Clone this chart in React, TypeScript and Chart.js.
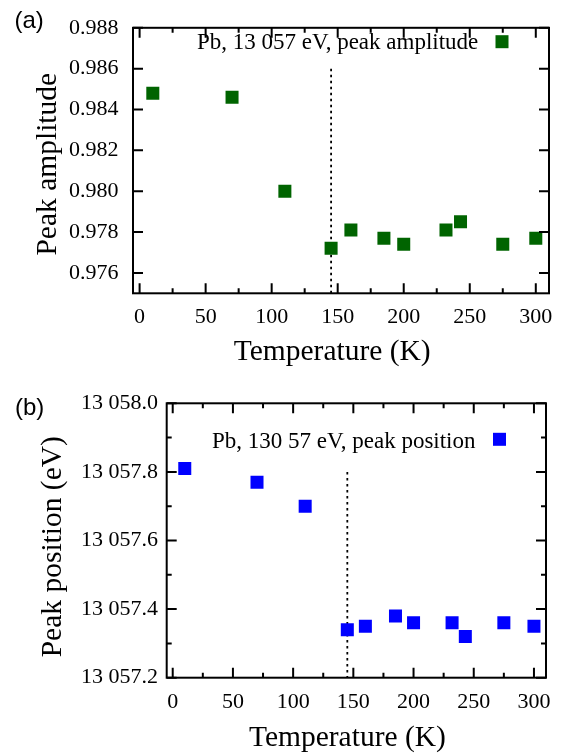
import React, { useEffect, useRef } from 'react';
import { Chart, registerables } from 'chart.js';

Chart.register(...registerables);

// ---------------- data ----------------
const TEMPERATURES = [10, 70, 110, 145, 160, 185, 200, 232, 243, 275, 300];
const PEAK_AMPLITUDE = [0.9848, 0.9846, 0.98, 0.9772, 0.9781, 0.9777, 0.9774, 0.9781, 0.9785, 0.9774, 0.9777];
const PEAK_POSITION = [13057.81, 13057.77, 13057.7, 13057.34, 13057.35, 13057.38, 13057.36, 13057.36, 13057.32, 13057.36, 13057.35];

const TRANSITION_T = 145;
const TRANSITION_SPAN_A = [0.986, 0.975];
const TRANSITION_SPAN_B = [13057.8, 13057.2];

const X_MAJOR_TICKS = [0, 50, 100, 150, 200, 250, 300];
const X_TICK_LABELS = ['0', '50', '100', '150', '200', '250', '300'];
const X_MINOR_TICKS = [25, 75, 125, 175, 225, 275];

const Y_TICKS_A = [0.976, 0.978, 0.98, 0.982, 0.984, 0.986, 0.988];
const Y_TICK_LABELS_A = ['0.976', '0.978', '0.980', '0.982', '0.984', '0.986', '0.988'];
const Y_MINOR_TICKS_A: number[] = [];

const Y_TICKS_B = [13057.2, 13057.4, 13057.6, 13057.8, 13058.0];
const Y_TICK_LABELS_B = ['13 057.2', '13 057.4', '13 057.6', '13 057.8', '13 058.0'];
const Y_MINOR_TICKS_B = [13057.3, 13057.5, 13057.7, 13057.9];

// ---------------- styles ----------------
const SERIF = '"Liberation Serif", "Times New Roman", Times, serif';
const SANS = '"Liberation Sans", Arial, Helvetica, sans-serif';
const W = 566;
const H = 377;

const PANELS = [
  {
    key: 'a',
    area: { left: 133, right: 549, top: 20.7, bottom: 293.3 },
    xRange: [-5, 310],
    yRange: [0.975, 0.988],
    yTicks: Y_TICKS_A,
    yLabels: Y_TICK_LABELS_A,
    yMinor: Y_MINOR_TICKS_A,
    yLabelPad: 14.6,
    xLabelPad: 11.1,
    values: PEAK_AMPLITUDE,
    span: TRANSITION_SPAN_A,
    color: '#006400',
    label: 'Pb, 13 057 eV, peak amplitude',
    panelLabel: '(a)',
    panelLabelPos: [14.5, 28],
    yTitle: 'Peak amplitude',
    yTitlePos: [56, 164.2],
    xTitle: 'Temperature (K)',
    xTitlePos: [332.2, 360],
    legendMarker: [502, 41.7],
    legendTextRight: 478.3,
    legendBaseline: 49,
  },
  {
    key: 'b',
    area: { left: 166.7, right: 546, top: 26.3, bottom: 300.7 },
    xRange: [-5, 310],
    yRange: [13057.2, 13058.0],
    yTicks: Y_TICKS_B,
    yLabels: Y_TICK_LABELS_B,
    yMinor: Y_MINOR_TICKS_B,
    yLabelPad: 8.6,
    xLabelPad: 11.7,
    values: PEAK_POSITION,
    span: TRANSITION_SPAN_B,
    color: '#0000ff',
    label: 'Pb, 130 57 eV, peak position',
    panelLabel: '(b)',
    panelLabelPos: [15, 37.5],
    yTitle: 'Peak position (eV)',
    yTitlePos: [61.4, 169.7],
    xTitle: 'Temperature (K)',
    xTitlePos: [347.4, 368.7],
    legendMarker: [499.5, 62.3],
    legendTextRight: 475.5,
    legendBaseline: 71.3,
  },
];

type PanelCfg = (typeof PANELS)[number];

function makeOverlay(cfg: PanelCfg) {
  return {
    id: 'overlay_' + cfg.key,
    afterDraw(chart: any) {
      const { ctx, chartArea: a, scales } = chart;
      const xs = scales.x;
      const ys = scales.y;
      ctx.save();
      ctx.strokeStyle = '#000';
      ctx.lineWidth = 2;
      ctx.lineCap = 'butt';
      // inward ticks on all four sides
      const xTick = (vals: number[], len: number) => {
        vals.forEach((v) => {
          const px = xs.getPixelForValue(v);
          ctx.beginPath();
          ctx.moveTo(px, a.bottom);
          ctx.lineTo(px, a.bottom - len);
          ctx.moveTo(px, a.top);
          ctx.lineTo(px, a.top + len);
          ctx.stroke();
        });
      };
      const yTick = (vals: number[], len: number) => {
        vals.forEach((v) => {
          const py = ys.getPixelForValue(v);
          ctx.beginPath();
          ctx.moveTo(a.left, py);
          ctx.lineTo(a.left + len, py);
          ctx.moveTo(a.right, py);
          ctx.lineTo(a.right - len, py);
          ctx.stroke();
        });
      };
      xTick(X_MAJOR_TICKS, 10);
      xTick(X_MINOR_TICKS, 5);
      yTick(cfg.yTicks, 10);
      yTick(cfg.yMinor, 5);
      // frame
      ctx.strokeRect(a.left, a.top, a.right - a.left, a.bottom - a.top);

      // legend (inside plot)
      const ds = chart.data.datasets[0];
      ctx.fillStyle = '#000';
      ctx.font = `23px ${SERIF}`;
      ctx.textAlign = 'right';
      ctx.textBaseline = 'alphabetic';
      ctx.fillText(ds.label, cfg.legendTextRight, cfg.legendBaseline);
      ctx.fillStyle = ds.backgroundColor;
      const s = 13;
      ctx.fillRect(cfg.legendMarker[0] - s / 2, cfg.legendMarker[1] - s / 2, s, s);

      // axis titles
      ctx.fillStyle = '#000';
      ctx.font = `29.5px ${SERIF}`;
      ctx.textAlign = 'center';
      ctx.textBaseline = 'alphabetic';
      ctx.fillText(cfg.xTitle, cfg.xTitlePos[0], cfg.xTitlePos[1]);
      ctx.save();
      ctx.translate(cfg.yTitlePos[0], cfg.yTitlePos[1]);
      ctx.rotate(-Math.PI / 2);
      ctx.fillText(cfg.yTitle, 0, 0);
      ctx.restore();

      // panel label
      ctx.font = `24px ${SANS}`;
      ctx.textAlign = 'left';
      ctx.fillText(cfg.panelLabel, cfg.panelLabelPos[0], cfg.panelLabelPos[1]);
      ctx.restore();
    },
  };
}

function Panel({ cfg }: { cfg: PanelCfg }) {
  const ref = useRef<HTMLCanvasElement | null>(null);
  useEffect(() => {
    if (!ref.current) return;
    const a = cfg.area;
    const tickFont = { family: SERIF, size: 22 };
    const chart = new Chart(ref.current, {
      type: 'scatter',
      data: {
        datasets: [
          {
            label: cfg.label,
            data: TEMPERATURES.map((t, i) => ({ x: t, y: cfg.values[i] })),
            backgroundColor: cfg.color,
            borderColor: cfg.color,
            borderWidth: 0,
            pointStyle: 'rect',
            pointRadius: 9.2,
            pointHoverRadius: 9.2,
          },
          {
            label: 'transition',
            type: 'line',
            data: cfg.span.map((v) => ({ x: TRANSITION_T, y: v })),
            borderColor: '#000',
            borderWidth: 1.8,
            borderDash: [2.5, 3.5],
            pointRadius: 0,
            showLine: true,
            fill: false,
          } as any,
        ],
      },
      options: {
        responsive: false,
        maintainAspectRatio: false,
        devicePixelRatio: 1,
        animation: false,
        events: [],
        layout: { padding: { left: 0, top: a.top, right: W - a.right, bottom: 0 } },
        plugins: { legend: { display: false }, tooltip: { enabled: false }, title: { display: false } },
        scales: {
          x: {
            type: 'linear',
            position: 'bottom',
            min: cfg.xRange[0],
            max: cfg.xRange[1],
            afterBuildTicks: (s: any) => {
              s.ticks = X_MAJOR_TICKS.map((v) => ({ value: v }));
            },
            afterFit: (s: any) => {
              s.height = H - a.bottom;
            },
            ticks: {
              autoSkip: false,
              maxRotation: 0,
              minRotation: 0,
              padding: cfg.xLabelPad,
              color: '#000',
              font: tickFont,
              callback: (_v: any, i: number) => X_TICK_LABELS[i],
            },
            grid: { display: false, drawTicks: false },
            border: { display: false },
          },
          y: {
            type: 'linear',
            position: 'left',
            min: cfg.yRange[0],
            max: cfg.yRange[1],
            afterBuildTicks: (s: any) => {
              s.ticks = cfg.yTicks.map((v) => ({ value: v }));
            },
            afterFit: (s: any) => {
              s.width = a.left;
            },
            ticks: {
              autoSkip: false,
              padding: cfg.yLabelPad,
              color: '#000',
              font: tickFont,
              callback: (_v: any, i: number) => cfg.yLabels[i],
            },
            grid: { display: false, drawTicks: false },
            border: { display: false },
          },
        },
      },
      plugins: [makeOverlay(cfg)],
    } as any);
    return () => chart.destroy();
  }, [cfg]);
  return <canvas ref={ref} width={W} height={H} style={{ display: 'block', width: W, height: H }} />;
}

export default function App() {
  return (
    <div style={{ position: 'absolute', left: 0, top: 0, width: W, height: 2 * H, background: '#fff' }}>
      {PANELS.map((p) => (
        <Panel key={p.key} cfg={p} />
      ))}
    </div>
  );
}
